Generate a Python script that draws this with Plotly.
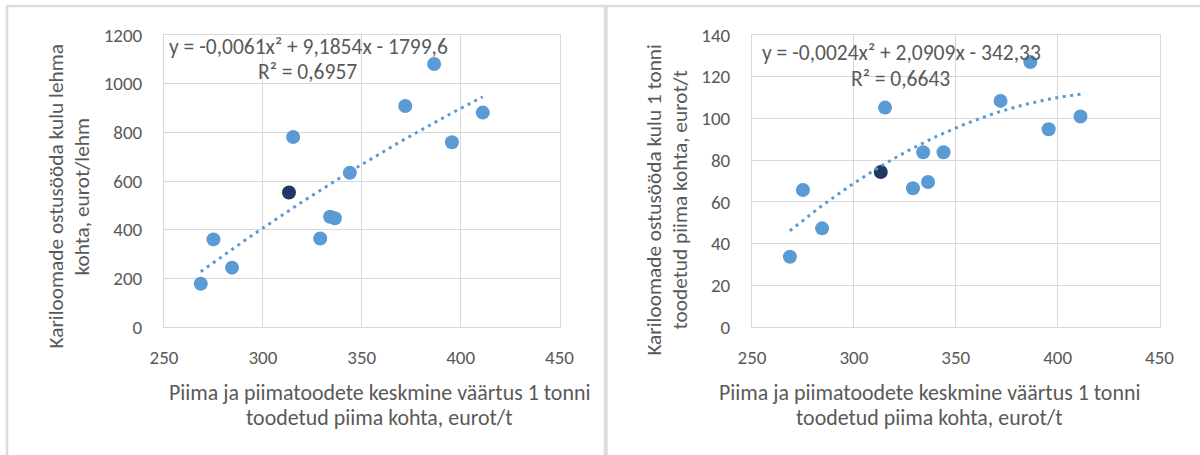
import numpy as np
import plotly.graph_objects as go

# Average value of milk and milk products per tonne of milk produced (eurot/t)
milk_value = [268.6, 275.0, 284.4, 313.2, 315.3, 329.0, 334.0, 336.4, 344.0, 372.0, 386.6, 395.6, 411.2]
# Purchased feed cost per cow (eurot/lehm)
feed_per_cow = [178, 360, 244, 553, 781, 364, 453, 447, 634, 908, 1081, 759, 881]
# Purchased feed cost per tonne of milk produced (eurot/t)
feed_per_tonne = [33.7, 65.7, 47.3, 74.3, 105.2, 66.5, 83.8, 69.5, 83.8, 108.4, 127.0, 94.8, 100.9]
# Farm shown in dark colour
highlight_index = 3

# Polynomial trendlines (order 2) with their displayed labels
trend_cow = [-0.0061, 9.1854, -1799.6]
trend_cow_label = ["y = -0,0061x² + 9,1854x - 1799,6", "R² = 0,6957"]
trend_tonne = [-0.0024, 2.0909, -342.33]
trend_tonne_label = ["y = -0,0024x² + 2,0909x - 342,33", "R² = 0,6643"]

x_ticks = [250, 300, 350, 400, 450]
cow_ticks = [0, 200, 400, 600, 800, 1000, 1200]
tonne_ticks = [0, 20, 40, 60, 80, 100, 120, 140]

x_title = ["Piima ja piimatoodete keskmine väärtus 1 tonni", "toodetud piima kohta, eurot/t"]
cow_title = ["Kariloomade ostusööda kulu lehma", "kohta, eurot/lehm"]
tonne_title = ["Kariloomade ostusööda kulu 1 tonni", "toodetud piima kohta, eurot/t"]

W, H = 1200, 455
FONT = "Calibri, Carlito, Lato, 'Open Sans', sans-serif"
TXT = "#595959"
GRID = "#d9d9d9"
BLUE = "#5b9bd5"
DARK = "#1f3864"


def px(x):
    return x / W


def py(y):
    return 1 - y / H


fig = go.Figure()

panels = [
    dict(xa="x", ya="y", values=feed_per_cow, coef=trend_cow, label=trend_cow_label,
         dom=(164, 559.5), ticks=cow_ticks, yrange=[0, 1200], title=cow_title,
         title_x=(55.5, 81.5), title_y=197, eq_x=(308, 307), eq_y=(46.7, 71.7), xt_x=379),
    dict(xa="x2", ya="y2", values=feed_per_tonne, coef=trend_tonne, label=trend_tonne_label,
         dom=(752, 1159.5), ticks=tonne_ticks, yrange=[0, 140], title=tonne_title,
         title_x=(653.6, 680.4), title_y=200, eq_x=(901, 900), eq_y=(53.3, 79.3), xt_x=929),
]

for i, p in enumerate(panels):
    colors = [DARK if k == highlight_index else BLUE for k in range(len(milk_value))]
    fig.add_trace(go.Scatter(
        x=milk_value, y=p["values"], mode="markers", xaxis=p["xa"], yaxis=p["ya"],
        marker=dict(size=14, color=colors, line=dict(width=0)), showlegend=False,
    ))
    tx = np.linspace(min(milk_value), max(milk_value), 120)
    a, b, c = p["coef"]
    fig.add_trace(go.Scatter(
        x=tx, y=a * tx ** 2 + b * tx + c, mode="lines", xaxis=p["xa"], yaxis=p["ya"],
        line=dict(color=BLUE, width=3, dash="3px,4.5px"), showlegend=False,
    ))
    suffix = "" if i == 0 else "2"
    axis_common = dict(showgrid=True, gridcolor=GRID, gridwidth=1, zeroline=False,
                       showline=True, linecolor=GRID, linewidth=1, mirror=True,
                       automargin=False, ticks="",
                       tickfont=dict(family=FONT, size=19, color=TXT))
    fig.update_layout(**{
        "xaxis" + suffix: dict(domain=[px(p["dom"][0]), px(p["dom"][1])], range=[250, 450],
                               tickvals=x_ticks, anchor="y" + suffix,
                               ticklabelstandoff=13, **axis_common),
        "yaxis" + suffix: dict(domain=[py(327), py(35)], range=p["yrange"],
                               tickvals=p["ticks"], anchor="x" + suffix,
                               ticklabelstandoff=17, **axis_common),
    })
    common_ann = dict(xref="paper", yref="paper", showarrow=False, align="center",
                      xanchor="center", yanchor="middle")
    # trendline equation and R²
    for j in range(2):
        fig.add_annotation(x=px(p["eq_x"][j]), y=py(p["eq_y"][j]), text=p["label"][j],
                           font=dict(family=FONT, size=21.5, color=TXT), **common_ann)
    # axis titles, one annotation per line
    for j in range(2):
        fig.add_annotation(x=px(p["xt_x"]), y=py(392 + 25 * j), text=x_title[j],
                           font=dict(family=FONT, size=21.9, color=TXT), **common_ann)
        fig.add_annotation(x=px(p["title_x"][j]), y=py(p["title_y"]), text=p["title"][j],
                           textangle=-90, font=dict(family=FONT, size=21.3, color=TXT),
                           **common_ann)

# frame lines around the two panels
fig.add_shape(type="line", xref="paper", yref="paper", x0=px(6), x1=1, y0=py(6), y1=py(6),
              line=dict(color="#dcdcdc", width=2.5))
fig.add_shape(type="line", xref="paper", yref="paper", x0=px(7), x1=px(7), y0=py(6), y1=0,
              line=dict(color="#dcdcdc", width=2.5))
fig.add_shape(type="line", xref="paper", yref="paper", x0=px(605.7), x1=px(605.7), y0=py(6), y1=0,
              line=dict(color="#dcdcdc", width=4))

fig.update_layout(width=W, height=H, margin=dict(l=0, r=0, t=0, b=0, autoexpand=False),
                  paper_bgcolor="white", plot_bgcolor="white",
                  font=dict(family=FONT, color=TXT))

fig.write_html("out.html")
